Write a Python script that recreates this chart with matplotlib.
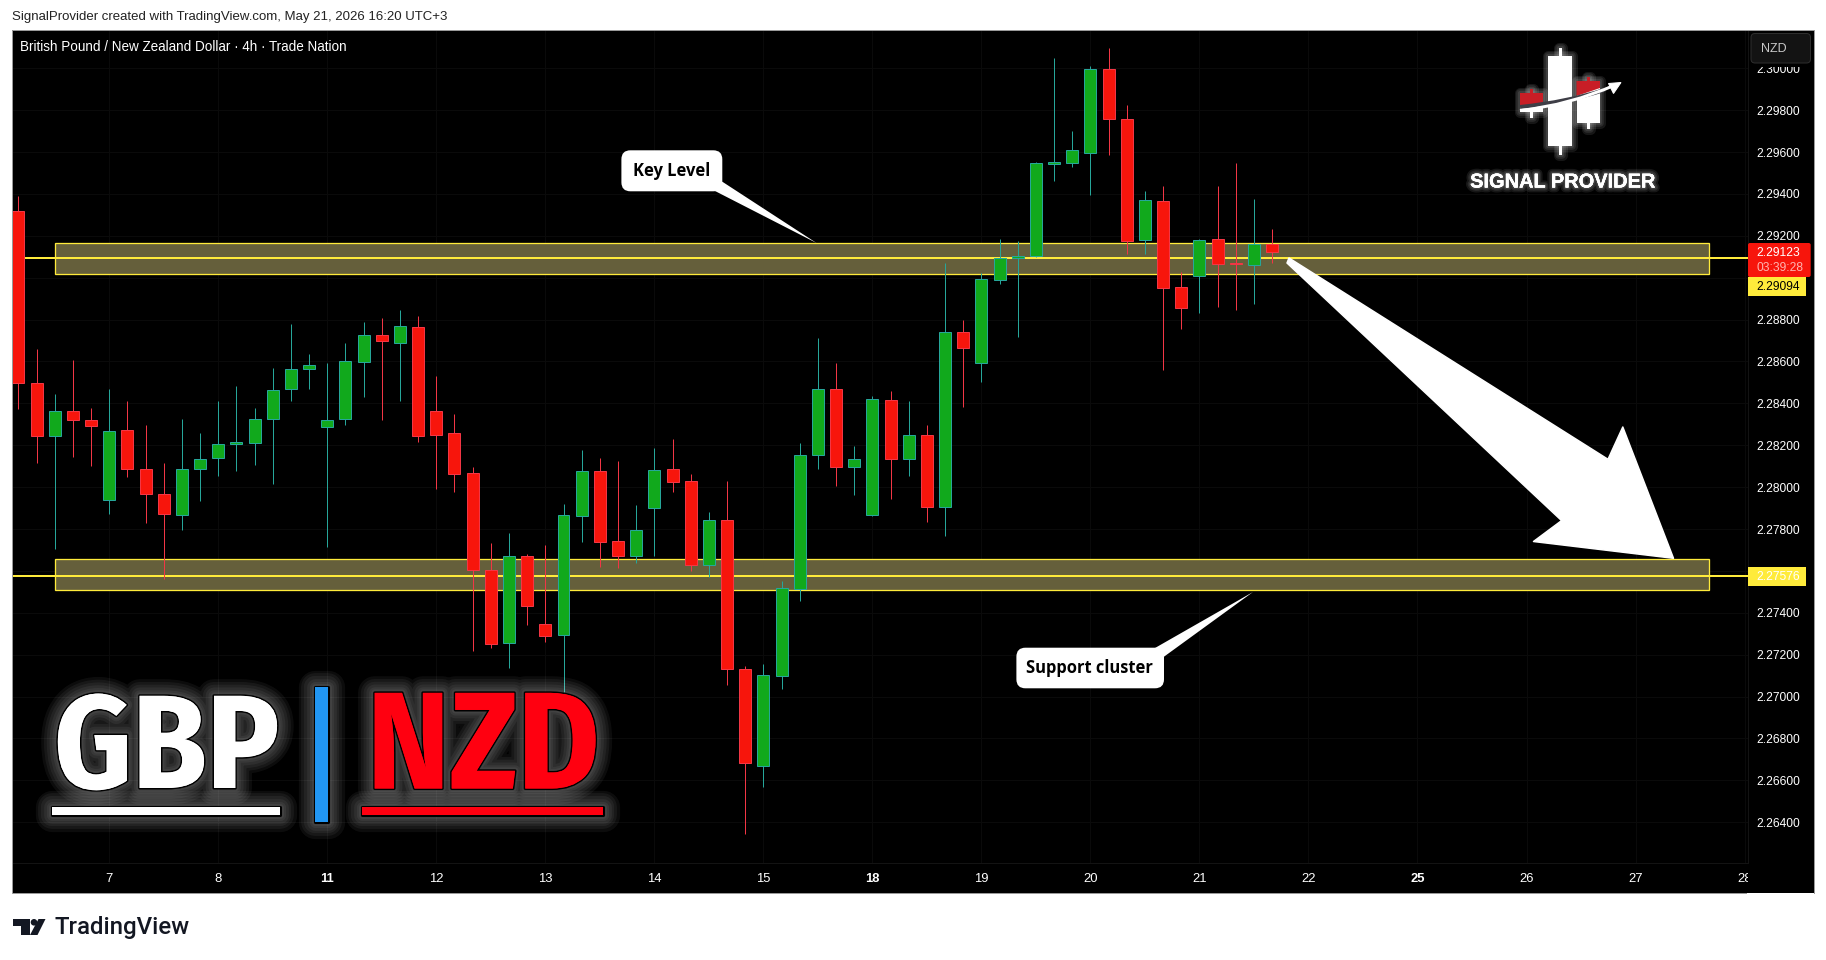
import matplotlib
matplotlib.use("Agg")
import matplotlib.pyplot as plt
import matplotlib.patheffects as pe
from matplotlib.patches import Rectangle, Polygon, FancyBboxPatch, Circle, PathPatch
from matplotlib.path import Path

# ---------- data ----------
opens = [2.29318,2.28496,2.28246,2.28362,2.28320,2.27938,2.28272,2.28086,2.27966,2.27866,
         2.28086,2.28138,2.28205,2.28210,2.28324,2.28468,2.28563,2.28289,2.28324,2.28599,
         2.28725,2.28690,2.28764,2.28362,2.28258,2.28066,2.27603,2.27255,2.27670,2.27345,
         2.27296,2.27864,2.28076,2.27742,2.27673,2.27902,2.28086,2.28028,2.27630,2.27842,
         2.27131,2.26670,2.27100,2.27515,2.28155,2.28468,2.28098,2.27869,2.28415,2.28136,
         2.28248,2.27907,2.28740,2.28595,2.28991,2.29093,2.29103,2.29544,2.29550,2.29597,
         2.29996,2.29757,2.29182,2.29365,2.28955,2.29010,2.29184,2.29071,2.29063,2.29160]
highs = [2.29391,2.28660,2.28445,2.28608,2.28378,2.28469,2.28412,2.28297,2.28116,2.28326,
         2.28259,2.28412,2.28483,2.28378,2.28568,2.28779,2.28636,2.28593,2.28689,2.28789,
         2.28808,2.28846,2.28818,2.28531,2.28350,2.28096,2.27734,2.27781,2.27681,2.27724,
         2.27920,2.28178,2.28140,2.28125,2.27915,2.28187,2.28230,2.28063,2.27882,2.28030,
         2.27146,2.27156,2.27552,2.28211,2.28713,2.28593,2.28197,2.28436,2.28459,2.28412,
         2.28297,2.29071,2.28799,2.29022,2.29185,2.29176,2.29553,2.30050,2.29701,2.30011,
         2.30097,2.29825,2.29415,2.29438,2.29028,2.29185,2.29438,2.29548,2.29376,2.29233]
lows = [2.28375,2.28117,2.27706,2.28146,2.28103,2.27874,2.28050,2.27831,2.27563,2.27797,
        2.27936,2.28055,2.28079,2.28108,2.28017,2.28413,2.28470,2.27716,2.28299,2.28432,
        2.28322,2.28413,2.28217,2.27993,2.27979,2.27219,2.27234,2.27138,2.27343,2.27262,
        2.27023,2.27740,2.27619,2.27616,2.27640,2.27673,2.27977,2.27601,2.27570,2.27056,
        2.26344,2.26570,2.27038,2.27457,2.28087,2.28006,2.27963,2.27862,2.27945,2.28054,
        2.27834,2.27768,2.28385,2.28504,2.28972,2.28719,2.29099,2.29464,2.29529,2.29395,
        2.29586,2.29115,2.29115,2.28560,2.28757,2.28832,2.28862,2.28846,2.28875,2.29072]
closes = [2.28496,2.28246,2.28362,2.28320,2.28294,2.28267,2.28086,2.27966,2.27871,2.28086,
          2.28133,2.28205,2.28215,2.28324,2.28463,2.28563,2.28584,2.28320,2.28601,2.28725,
          2.28697,2.28768,2.28246,2.28251,2.28064,2.27603,2.27250,2.27670,2.27430,2.27291,
          2.27866,2.28076,2.27740,2.27673,2.27794,2.28081,2.28026,2.27630,2.27842,2.27131,
          2.26682,2.27102,2.27517,2.28152,2.28468,2.28098,2.28133,2.28420,2.28136,2.28248,
          2.27907,2.28740,2.28662,2.28993,2.29093,2.29103,2.29547,2.29553,2.29609,2.29996,
          2.29760,2.29177,2.29370,2.28953,2.28857,2.29179,2.29067,2.29067,2.29160,2.29123]
day_ticks = [5, 11, 17, 23, 29, 35, 41, 47, 53, 59, 65, 71, 77, 83, 89, 95]
day_labels = ["7","8","11","12","13","14","15","18","19","20","21","22","25","26","27","28"]
bold_days = ["11","18","25"]
price_ticks = [2.264,2.266,2.268,2.270,2.272,2.274,2.276,2.278,2.280,2.282,2.284,2.286,2.288,
               2.290,2.292,2.294,2.296,2.298,2.300]
hidden_prices = [2.276, 2.290]
key_zone = (2.29017, 2.29165)
support_zone = (2.27508, 2.27656)
zone_span = (2.04, 93.03)
key_line = 2.29094
support_line = 2.27576
last_price = 2.29123

W, H = 1826, 960
RED, RED_W = "#F7150C", "#F23645"
GREEN, TEAL = "#11A91C", "#26A69A"
YEL = "#FFEB3B"
PX = 0.72
UI = "Liberation Sans"

fig = plt.figure(figsize=(W/100, H/100), dpi=100, facecolor="white")

# main price panel
L_, T_, R_, B_ = 11.5, 30.0, 1748.0, 863.0
ax = fig.add_axes([L_/W, 1-B_/H, (R_-L_)/W, (B_-T_)/H], facecolor="black")
fig.patches.append(Rectangle((L_/W, 1-893/H), (1814-L_)/W, 863/H, transform=fig.transFigure,
                             facecolor="black", edgecolor="none", zorder=-5))
ax.set_xlim(-0.38, 95.19)
ax.set_ylim(2.26205, 2.30183)
for s in ("top", "left"):
    ax.spines[s].set_visible(False)
for s in ("right", "bottom"):
    ax.spines[s].set_color("#141414")
    ax.spines[s].set_linewidth(0.7)
ax.grid(True, color="#0B0B0B", lw=0.7, zorder=0)
ax.set_axisbelow(True)
ax.yaxis.tick_right()
ax.set_yticks(price_ticks)
ax.set_yticklabels(["" if p in hidden_prices else f"{p:.5f}" for p in price_ticks],
                   color="white", fontsize=12*PX, family=UI)
ax.set_xticks(day_ticks)
ax.set_xticklabels(day_labels, color="white", fontsize=13*PX, family=UI)
for lab in ax.get_xticklabels():
    if lab.get_text() in bold_days:
        lab.set_fontweight("bold")
ax.tick_params(axis="both", length=0)
ax.tick_params(axis="y", pad=6.2)
ax.tick_params(axis="x", pad=7)

# zones + levels
for zone in (key_zone, support_zone):
    ax.add_patch(Rectangle((zone_span[0], zone[0]), zone_span[1]-zone_span[0], zone[1]-zone[0],
                           facecolor="#655F3B", edgecolor=YEL, lw=1.3*PX, zorder=1.5))
for lv in (key_line, support_line):
    ax.axhline(lv, color=YEL, lw=2*PX, zorder=1.7)

# candles
xs = list(range(len(opens)))
colors = [GREEN if c >= o else RED for o, c in zip(opens, closes)]
edges = [TEAL if c >= o else RED_W for o, c in zip(opens, closes)]
ax.vlines(xs, lows, highs, colors=edges, lw=1*PX, zorder=3)
ax.bar(xs, [abs(c-o) for o, c in zip(opens, closes)],
       bottom=[min(o, c) for o, c in zip(opens, closes)],
       width=0.66, color=colors, edgecolor=edges, linewidth=1*PX, zorder=4)

# overlay in pixel coordinates
ov = fig.add_axes([0, 0, 1, 1], facecolor="none")
ov.set_xlim(0, W); ov.set_ylim(H, 0); ov.axis("off")

# outer frame
ov.plot([1746, L_, L_, 1814, 1814], [893, 893, 30, 30, 893], color="#9A9A9A", lw=1*PX, zorder=1)
ov.add_patch(Rectangle((1748, 864), 66, 28.5, facecolor="black", edgecolor="none", zorder=1))

# header texts
ov.text(L_, 16.7, "SignalProvider created with TradingView.com, May 21, 2026 16:20 UTC+3",
        fontsize=13.2*PX, family=UI, color="#222222", va="center", ha="left")
ov.text(20.3, 46.7, "British Pound / New Zealand Dollar · 4h · Trade Nation",
        fontsize=13.5*PX, family=UI, color="white", va="center", ha="left")
ov.text(54.5, 927.5, "TradingView", fontsize=24*PX, family="Roboto", weight="medium",
        color="#131722", va="center", ha="left")
ov.add_patch(Polygon([(12.6,919),(29.5,919),(29.5,935),(21,935),(21,925.5),(12.6,925.5)], fc="#131722", ec="none"))
ov.add_patch(Circle((34,922.3), 3.3, fc="#131722", ec="none"))
ov.add_patch(Polygon([(38.5,919),(45.5,919),(37.5,935),(30,935)], fc="#131722", ec="none"))

# currency button
ov.add_patch(Rectangle((1749, 31), 64, 35.5, fc="black", ec="none", zorder=2))
ov.add_patch(FancyBboxPatch((1753, 35.5), 55.5, 25.5, boxstyle="round,pad=2,rounding_size=4",
                            fc="#131313", ec="#2E2E2E", lw=1*PX, zorder=2.1))
ov.text(1761.4, 48.5, "NZD", fontsize=12.5*PX, family=UI, color="#C8C8C8", va="center", zorder=3)

# price labels
ov.add_patch(FancyBboxPatch((1748, 243), 62.7, 34, boxstyle="round,pad=0,rounding_size=2",
                            fc="#F7150C", ec="none", zorder=2))
ov.text(1756.7, 253, f"{last_price:.5f}", fontsize=12*PX, family=UI, color="white", va="center", zorder=3)
ov.text(1756.7, 267.8, "03:39:28", fontsize=12*PX, family=UI, color="#FFB4B0", va="center", zorder=3)
ov.add_patch(Rectangle((1748, 277), 57.7, 18.7, fc=YEL, ec="none", zorder=2))
ov.text(1756.7, 286.5, f"{key_line:.5f}", fontsize=12*PX, family=UI, color="black", va="center", zorder=3)
ov.add_patch(Rectangle((1748, 567), 57.7, 19, fc=YEL, ec="none", zorder=2))
ov.text(1756.7, 576.7, f"{support_line:.5f}", fontsize=12*PX, family=UI, color="white", va="center", zorder=3)

# callouts
def callout(box, pointer, label, cx, cy):
    x0, y0, x1, y1 = box
    ov.add_patch(FancyBboxPatch((x0+8, y0+8), x1-x0-16, y1-y0-16,
                                boxstyle="round,pad=8,rounding_size=9", fc="white", ec="none", zorder=5))
    ov.add_patch(Polygon(pointer, fc="white", ec="none", zorder=5))
    ov.text(cx, cy, label, fontsize=16.5*PX, family="Open Sans", weight="bold", color="black",
            ha="center", va="center", zorder=6)

callout((621.4, 150.3, 722.3, 191.3), [(715,191),(722.3,181.7),(816.5,243)], "Key Level", 672, 171)
callout((1016.4, 647.7, 1164, 688.3), [(1155,648),(1164,656.7),(1253,592)], "Support cluster", 1089.5, 668)

# big arrow
ov.add_patch(Polygon([(1289,258),(1608,459.3),(1622.8,427),(1673.5,558.3),(1533.5,541.5),(1561.6,520.6),(1287,263)],
                     fc="white", ec="white", lw=1.5*PX, joinstyle="round", zorder=5))

# logo
def soft(widths=(8, 5.5, 3), a=0.09):
    return [pe.withStroke(linewidth=w, foreground="white", alpha=a, joinstyle="round") for w in widths] + [pe.Normal()]
def lrect(x0, y0, x1, y1, c="white", z=7):
    ov.add_patch(Rectangle((x0, y0), x1-x0, y1-y0, fc=c, ec="none", zorder=z, path_effects=soft()))
lrect(1558.8, 48, 1561.8, 155)
lrect(1548.3, 56, 1572, 146)
lrect(1530, 89, 1533, 118)
lrect(1519.8, 93.3, 1543, 112)
lrect(1587, 76.7, 1590, 129)
lrect(1576.5, 81, 1600, 123)
ov.add_patch(Rectangle((1519.8, 93.3), 23.2, 12, fc="#C81E26", ec="none", zorder=7.1))
ov.add_patch(Rectangle((1530, 89), 3, 5, fc="#C81E26", ec="none", zorder=7.1))
ov.add_patch(Polygon([(1576.5,81),(1600,81),(1600,88),(1576.5,96)], fc="#C81E26", ec="none", zorder=7.1))
ov.add_patch(Rectangle((1587, 76.7), 3, 5, fc="#C81E26", ec="none", zorder=7.1))
dark = Path([(1520,107),(1568,102),(1604,90)], [Path.MOVETO, Path.CURVE3, Path.CURVE3])
ov.add_patch(PathPatch(dark, fc="none", ec="#3E3E46", lw=4*PX, zorder=7.2, capstyle="butt"))
curve = Path([(1520,110.5),(1570,105),(1615,85)], [Path.MOVETO, Path.CURVE3, Path.CURVE3])
ov.add_patch(PathPatch(curve, fc="none", ec="white", lw=3*PX, zorder=7.3, capstyle="butt"))
ov.add_patch(Polygon([(1621,82.5),(1608.5,83.5),(1613.5,93.5)], fc="white", ec="white", lw=1*PX, zorder=7.4))
ov.text(1563, 182, "SIGNAL PROVIDER", fontsize=20*PX, family=UI, weight="bold", color="white",
        ha="center", va="center", zorder=8, path_effects=soft((7, 4.5, 2.5), 0.09))

# big currency pair
glow = [pe.withStroke(linewidth=w, foreground="white", alpha=0.05, joinstyle="round", capstyle="round")
        for w in (24, 20, 16, 12, 8, 5)]
outline = [pe.withStroke(linewidth=2.2, foreground="black", joinstyle="round"), pe.Normal()]
big = ["Fira Sans Condensed", "Open Sans"]
ov.text(166.5, 788, "GBP", fontsize=133*PX, family=big, weight="bold", color="white",
        ha="center", va="baseline", zorder=9, path_effects=glow+outline)
ov.text(483.5, 788.5, "NZD", fontsize=138*PX, family=big, weight="bold", color="#FF0010",
        ha="center", va="baseline", zorder=9, path_effects=glow+outline)
for (x0, y0, x1, y1, c) in [(51.7, 806.7, 280, 815, "white"), (361.7, 806.7, 602.7, 815, "#FF0010"),
                            (314.5, 686.5, 328.2, 821.5, "#2196F3")]:
    ov.add_patch(Rectangle((x0, y0), x1-x0, y1-y0, fc=c, ec="none", zorder=9, path_effects=glow+outline))

fig.savefig("out.png", dpi=100, facecolor="white")
